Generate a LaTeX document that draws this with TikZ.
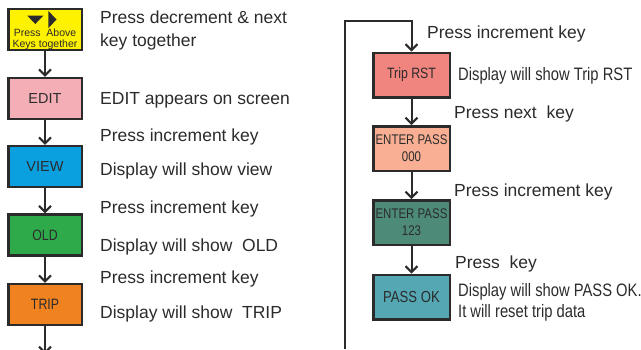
\documentclass[tikz,border=0pt]{standalone}
\usepackage{fontspec}
\setmainfont{Liberation Sans}
\newfontfamily\narrowfont[FakeStretch=0.82]{Liberation Sans}
\usetikzlibrary{arrows.meta}
\definecolor{ink}{HTML}{2B2B2B}
\definecolor{keyyellow}{HTML}{FFF200}
\definecolor{editpink}{HTML}{F4AFB6}
\definecolor{viewblue}{HTML}{0AA0DF}
\definecolor{oldgreen}{HTML}{2FAA4B}
\definecolor{triporange}{HTML}{F08220}
\definecolor{rstred}{HTML}{F0857F}
\definecolor{passpeach}{HTML}{F8AF93}
\definecolor{passteal}{HTML}{4D8A78}
\definecolor{okteal}{HTML}{55A8B3}
\begin{document}
\begin{tikzpicture}[x=1pt, y=-1pt,
    box/.style={draw=ink, line width=2.5pt, text=ink, align=center, inner sep=0pt},
    leftbox/.style={box, minimum width=73.5pt, minimum height=41pt},
    rightbox/.style={box, minimum width=76.5pt, minimum height=44.5pt},
    flow/.style={ink, line width=2pt, -{Straight Barb[length=6pt,width=12pt]}},
    note/.style={anchor=west, text=ink, inner sep=0pt, align=left, font=\fontsize{17.5}{23}\selectfont},
    small/.style={note, font=\narrowfont\fontsize{18}{21.7}\selectfont}]
    \useasboundingbox (0,0) rectangle (641,349);

    \node[leftbox, fill=keyyellow] (keys) at (45,29.5) {};
    \fill[ink] (27.3,15.7) -- (43.3,15.7) -- (35.3,24) -- cycle;
    \fill[ink] (48.3,11) -- (48.3,28) -- (56.7,19.5) -- cycle;
    \node[text=ink, inner sep=0pt, align=center, font=\fontsize{10.5}{11}\selectfont] (keystext) at (45,39) {Press\ \ Above\\Keys together};
    \node[leftbox, fill=editpink, font=\fontsize{14.5}{16}\selectfont] (edit) at (45,98.5) {EDIT};
    \node[leftbox, fill=viewblue, font=\fontsize{14.5}{16}\selectfont] (view) at (45,166.5) {VIEW};
    \node[leftbox, fill=oldgreen, font=\narrowfont\fontsize{15}{16}\selectfont] (old) at (45,235) {OLD};
    \node[leftbox, fill=triporange, font=\narrowfont\fontsize{15}{16}\selectfont] (trip) at (45,304.5) {TRIP};
    \coordinate (leftend) at (45,354);

    \draw[flow] (keys) -- (edit);
    \draw[flow] (edit) -- (view);
    \draw[flow] (view) -- (old);
    \draw[flow] (old) -- (trip);
    \draw[flow] (trip) -- (leftend);

    \node[note] (n1) at (100,30) {Press decrement \& next\\key together};
    \node[note] (n2) at (100,100.7) {EDIT appears on screen};
    \node[note] (n3) at (100,137.4) {Press increment key};
    \node[note] (n4) at (100,170.7) {Display will show view};
    \node[note] (n5) at (100,209) {Press increment key};
    \node[note] (n6) at (100,247.4) {Display will show\ \ OLD};
    \node[note] (n7) at (100,279) {Press increment key};
    \node[note] (n8) at (100,314) {Display will show\ \ TRIP};

    \node[rightbox, fill=rstred, font=\narrowfont\fontsize{15}{16}\selectfont] (triprst) at (411.5,75) {Trip RST};
    \node[rightbox, fill=passpeach, font=\narrowfont\fontsize{14}{17}\selectfont] (pass0) at (411.5,148.5) {ENTER PASS\\000};
    \node[rightbox, fill=passteal, font=\narrowfont\fontsize{14}{17}\selectfont] (pass1) at (411.5,222.5) {ENTER PASS\\123};
    \node[rightbox, fill=okteal, font=\narrowfont\fontsize{16}{17}\selectfont] (passok) at (411.5,297) {PASS OK};
    \coordinate (loopbot) at (345,349);
    \coordinate (looptop) at (345,21);

    \draw[flow] (loopbot) -- (looptop) -| (triprst.north);
    \draw[flow] (triprst) -- (pass0);
    \draw[flow] (pass0) -- (pass1);
    \draw[flow] (pass1) -- (passok);

    \node[note] (r1) at (427,34) {Press increment key};
    \node[small] (r2) at (458,75.4) {Display will show Trip RST};
    \node[note] (r3) at (454,114) {Press next\ \ key};
    \node[note] (r4) at (454,192.4) {Press increment key};
    \node[note] (r5) at (455,264) {Press\ \ key};
    \node[small] (r6) at (458,302.2) {Display will show PASS OK.\\It will reset trip data};
\end{tikzpicture}
\end{document}
